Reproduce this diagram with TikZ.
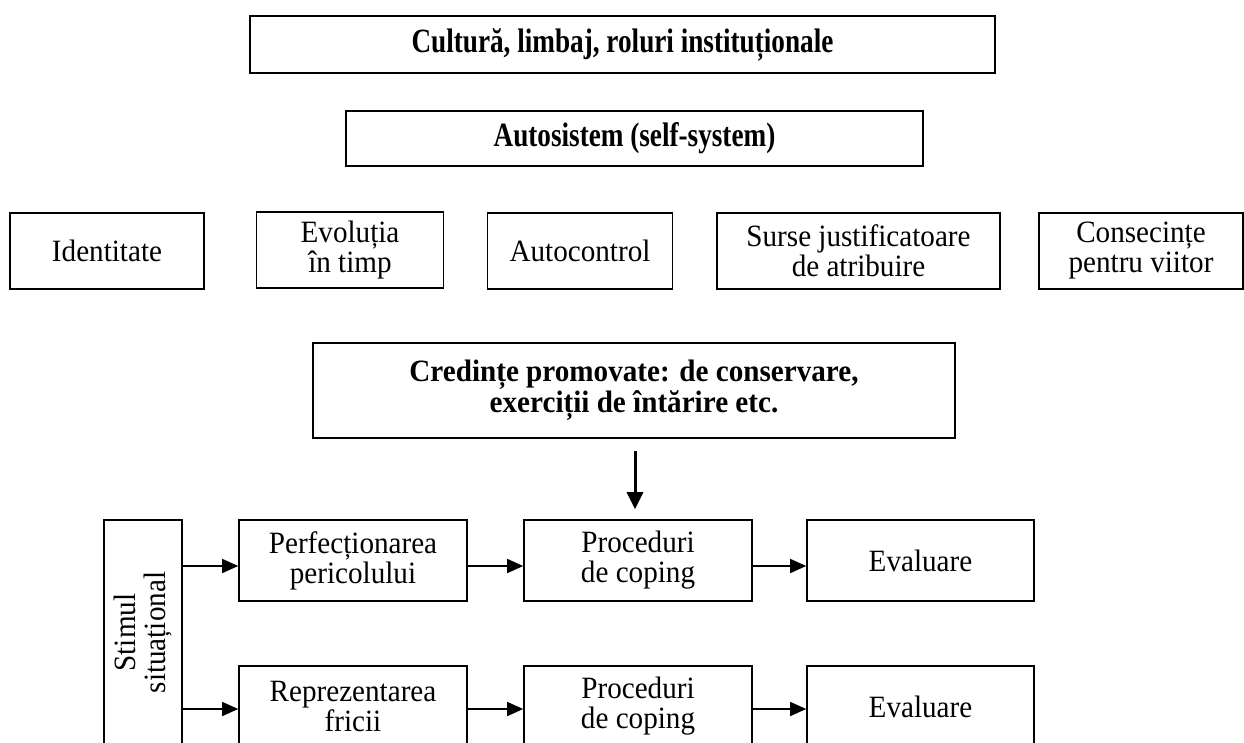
\documentclass[tikz,border=0pt]{standalone}
\usepackage{fontspec}
\setmainfont{Liberation Serif}[FakeStretch=0.94]
\newfontfamily\condfont{Liberation Serif}[FakeStretch=0.8]
\usetikzlibrary{arrows.meta}
\tikzset{
  box/.style={draw=black, line width=1.6pt, inner sep=0pt, align=center,
    font=\fontsize{31}{30}\selectfont},
  boldbox/.style={box, font=\fontsize{31}{29}\selectfont\bfseries},
  topbox/.style={box, line width=2pt, font=\fontsize{34}{29}\selectfont\condfont\bfseries},
  arr/.style={line width=1.5pt, -{Triangle[length=16pt,width=14pt]}},
  darr/.style={line width=3pt, -{Triangle[length=17pt,width=16pt]}},
}
\begin{document}
\begin{tikzpicture}[x=1pt,y=-1pt]
\clip (0,0) rectangle (1244,742);
\fill[white] (0,0) rectangle (1244,742);
% top
\node[topbox, minimum width=745pt, minimum height=57pt] (cult) at (622.5,44.5) {Cultură, limbaj, roluri instituționale};
\node[topbox, minimum width=577pt, minimum height=55pt] (auto) at (634.5,138.5) {Autosistem (self-system)};
% row of five
\node[box, minimum width=194pt, minimum height=76pt] (ident) at (107,251) {Identitate};
\node[box, minimum width=187pt, minimum height=76pt] (evol) at (350,250) {Evoluția\\în timp};
\node[box, minimum width=185pt, minimum height=76pt] (autoc) at (580,251) {Autocontrol};
\node[box, minimum width=283pt, minimum height=76pt] (surse) at (858.5,251) {Surse justificatoare\\de atribuire};
\node[box, minimum width=204pt, minimum height=76pt] (cons) at (1141,251) {Consecințe\\pentru viitor};
% beliefs
\node[boldbox, minimum width=642pt, minimum height=95pt] (cred) at (634,390.5) {Credințe promovate: de conservare,\\exerciții de întărire etc.};
% stimulus
\node[box, minimum width=78pt, minimum height=225pt] (stim) at (143,632.5) {};
\node[rotate=90, align=center, inner sep=0pt, font=\fontsize{31}{30}\selectfont] (stimtxt) at (stim.center) {Stimul\\situațional};
% process rows
\node[box, minimum width=228pt, minimum height=81pt] (perf) at (353,560.5) {Perfecționarea\\pericolului};
\node[box, minimum width=228pt, minimum height=81pt] (proca) at (638,560.5) {Proceduri\\de coping};
\node[box, minimum width=227pt, minimum height=81pt] (evala) at (920.5,560.5) {Evaluare};
\node[box, minimum width=228pt, minimum height=81pt] (repr) at (353,706.5) {Reprezentarea\\fricii};
\node[box, minimum width=228pt, minimum height=81pt] (procb) at (638,706.5) {Proceduri\\de coping};
\node[box, minimum width=227pt, minimum height=81pt] (evalb) at (920.5,706.5) {Evaluare};
% connectors
\draw[arr] ([yshift=-5.5pt]stim.east |- perf.west) -- ([yshift=-5.5pt]perf.west);
\draw[arr] ([yshift=-5.5pt]perf.east) -- ([yshift=-5.5pt]proca.west);
\draw[arr] ([yshift=-5.5pt]proca.east) -- ([yshift=-5.5pt]evala.west);
\draw[arr] ([yshift=-2.5pt]stim.east |- repr.west) -- ([yshift=-2.5pt]repr.west);
\draw[arr] ([yshift=-2.5pt]repr.east) -- ([yshift=-2.5pt]procb.west);
\draw[arr] ([yshift=-2.5pt]procb.east) -- ([yshift=-2.5pt]evalb.west);
\draw[darr, shorten <=12pt, shorten >=10pt] (cred.south -| 635,0) -- (proca.north -| 635,0);
\end{tikzpicture}
\end{document}
